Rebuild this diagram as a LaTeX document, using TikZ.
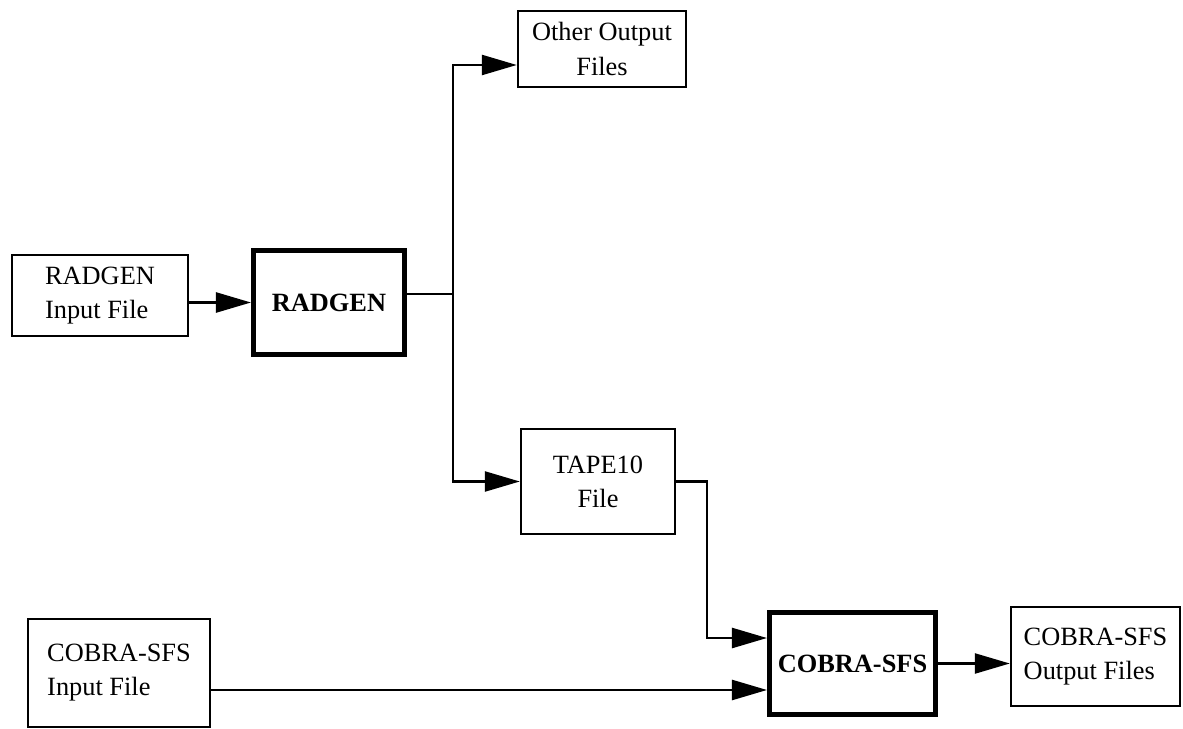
\documentclass[tikz,border=0pt]{standalone}
\usepackage{fontspec}
\setmainfont{Liberation Serif}
\usetikzlibrary{arrows.meta, positioning}
\tikzset{
  filebox/.style={draw, line width=1.4pt, inner sep=2pt,
    font=\fontsize{15pt}{19.4pt}\selectfont},
  progbox/.style={filebox, line width=2.9pt,
    font=\fontsize{15pt}{19.4pt}\selectfont\bfseries},
  flow/.style={line width=1.4pt}
}

\begin{document}
\begin{tikzpicture}[x=0.02cm, y=-0.02cm, >={Triangle[length=0.7cm, width=0.4cm]}]

  \useasboundingbox (0,0) rectangle (1183,729);

  % Eingabedateien
  \node[filebox, minimum width=3.52cm, minimum height=1.62cm, align=left]
    (radin) at (100,295.5) {RADGEN\\Input File};
  \node[filebox, minimum width=3.64cm, minimum height=2.16cm, align=left]
    (cobin) at (119,673) {COBRA-SFS\\Input File};

  % Programme
  \node[progbox, minimum width=3.02cm, minimum height=2.08cm]
    (radgen) at (329,302.5) {RADGEN};
  \node[progbox, minimum width=3.32cm, minimum height=2.04cm]
    (cobra) at (852.5,663.5) {COBRA-SFS};

  % Ausgabedateien
  \node[filebox, minimum width=3.36cm, minimum height=1.52cm, align=center]
    (other) at (602,49) {Other Output\\Files};
  \node[filebox, minimum width=3.08cm, minimum height=2.10cm, align=center]
    (tape) at (598,481.5) {TAPE10\\File};
  \node[filebox, minimum width=3.38cm, minimum height=1.98cm, align=left]
    (cobout) at (1095.5,656.5) {COBRA-SFS\\Output Files};

  % Verzweigung hinter RADGEN
  \coordinate (split) at (453,294);
  \coordinate (topin) at ([yshift=0.51cm]cobra.west);
  \coordinate (botin) at ([yshift=-0.53cm]cobra.west);

  % Verbindungen
  \draw[flow, ->] (radin.east |- radgen.west) -- (radgen.west);
  \draw[flow] (radgen.east |- split) -- (split);
  \draw[flow, ->] (split) |- ([yshift=-0.32cm]other.west);
  \draw[flow, ->] (split) |- (tape.west);
  \draw[flow, ->] (tape.east) -- ++(31,0) |- (topin);
  \draw[flow, ->] (cobin.east |- botin) -- (botin);
  \draw[flow, ->] (cobra.east) -- (cobout.west |- cobra.east);

\end{tikzpicture}
\end{document}
